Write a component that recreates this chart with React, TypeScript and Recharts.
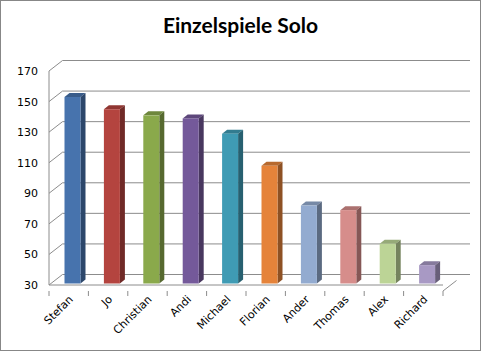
import { BarChart, Bar, XAxis, YAxis, CartesianGrid, Cell } from 'recharts';

const players = ['Stefan', 'Jo', 'Christian', 'Andi', 'Michael', 'Florian', 'Ander', 'Thomas', 'Alex', 'Richard'];
const games = [152, 144, 140, 138, 128, 107, 81, 78, 56, 42];
const barColors = ['#4773ad', '#b4443f', '#8aa94b', '#74599a', '#3f9bb4', '#e5833a', '#93abd0', '#d68d8b', '#bcd496', '#a899c4'];
const yTicks = [30, 50, 70, 90, 110, 130, 150, 170];

const data = players.map((name, i) => ({ name, games: games[i] }));

// fake 3d: how far the back wall sits from the front plane
const DX = 13.5;
const DY = 10.5;
const gridColor = '#8c8c8c';
const font = 'DejaVu Sans';

function shade(hex: string, k: number) {
    const n = parseInt(hex.slice(1), 16);
    const r = Math.round(((n >> 16) & 255) * k);
    const g = Math.round(((n >> 8) & 255) * k);
    const b = Math.round((n & 255) * k);
    return `rgb(${r},${g},${b})`;
}

// back wall lines: same value positions as the axis, pushed back by DY
function backWallLines({ yAxis, offset }: any) {
    const s = yAxis?.scale;
    let toPx: (v: number) => number;
    if (typeof s === 'function') toPx = (v) => s(v);
    else if (s && typeof s.map === 'function') toPx = (v) => s.map(v);
    else {
        const [lo, hi] = [yTicks[0], yTicks[yTicks.length - 1]];
        toPx = (v) => offset.top + (offset.height * (hi - v)) / (hi - lo);
    }
    return yTicks.map((t) => toPx(t) - DY);
}

const Column = (props: any) => {
    const { y, width, height, fill } = props;
    if (height <= 0) return null;
    const x = props.x + 3.5;
    const top = y - 1.5;
    const d = 5;
    const up = 4;
    return (
        <g>
            <polygon
                points={`${x},${top} ${x + d},${top - up} ${x + width + d},${top - up} ${x + width},${top}`}
                fill={shade(fill, 0.8)}
            />
            <polygon
                points={`${x + width},${top} ${x + width + d},${top - up} ${x + width + d},${top + height - up} ${x + width},${top + height}`}
                fill={shade(fill, 0.62)}
            />
            <rect x={x} y={top} width={width} height={height} fill={fill} />
        </g>
    );
};

const YTick = (props: any) => {
    const { y, payload } = props;
    const ax = 49;
    return (
        <g>
            <line x1={ax} y1={y} x2={ax + DX} y2={y - DY} stroke={gridColor} />
            <text x={38} y={y + 4} textAnchor="end" fontSize={11} fontFamily={font} fill="#000">
                {payload.value}
            </text>
        </g>
    );
};

const XTick = (props: any) => {
    const { x, y, payload, index } = props;
    const half = 19.7;
    const base = y - 2;
    const last = index === players.length - 1;
    return (
        <g>
            <line x1={x - half} y1={base} x2={x - half} y2={base + 5} stroke={gridColor} />
            {last && <line x1={x + half} y1={base} x2={x + half} y2={base + 5} stroke={gridColor} />}
            {last && <line x1={x + half} y1={base} x2={x + half + DX} y2={base - DY} stroke={gridColor} />}
            <text
                transform={`translate(${x + 5},${base + 9}) rotate(-45)`}
                textAnchor="end"
                fontSize={11}
                fontFamily={font}
                fill="#000"
            >
                {payload.value}
            </text>
        </g>
    );
};

export default function App() {
    return (
        <div style={{ position: 'absolute', left: 0, top: 0, width: 481, height: 351, background: '#fff' }}>
            <div
                style={{
                    position: 'absolute',
                    left: 0,
                    top: 15,
                    width: 481,
                    textAlign: 'center',
                    fontFamily: 'Lato',
                    fontWeight: 'bold',
                    fontSize: 21,
                    lineHeight: '20px',
                    color: '#000',
                }}
            >
                Einzelspiele Solo
            </div>
            <BarChart
                width={481}
                height={351}
                data={data}
                margin={{ top: 71, right: 38, left: 0, bottom: 0 }}
                barSize={16}
            >
                <CartesianGrid
                    vertical={false}
                    x={49 + DX}
                    width={394 + DX}
                    stroke={gridColor}
                    horizontalCoordinatesGenerator={backWallLines}
                />
                <XAxis
                    dataKey="name"
                    interval={0}
                    height={66}
                    tickLine={false}
                    axisLine={{ stroke: gridColor }}
                    tick={<XTick />}
                />
                <YAxis
                    domain={[30, 170]}
                    ticks={yTicks}
                    width={49}
                    tickLine={false}
                    axisLine={{ stroke: gridColor }}
                    tick={<YTick />}
                    allowDataOverflow
                />
                <Bar dataKey="games" shape={<Column />} isAnimationActive={false}>
                    {data.map((d, i) => (
                        <Cell key={d.name} fill={barColors[i]} />
                    ))}
                </Bar>
            </BarChart>
            <div
                style={{
                    position: 'absolute',
                    left: 0,
                    top: 0,
                    width: 481,
                    height: 351,
                    boxSizing: 'border-box',
                    border: '1px solid #878787',
                    pointerEvents: 'none',
                }}
            />
        </div>
    );
}
